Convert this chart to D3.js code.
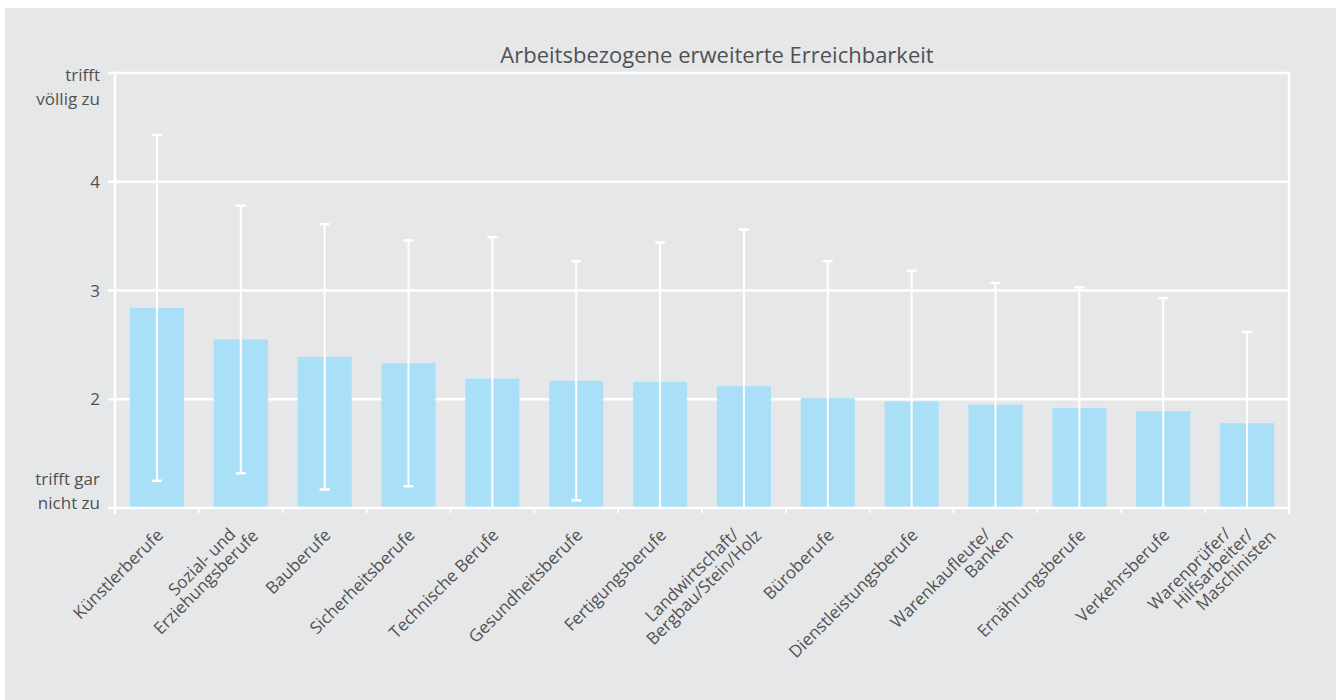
<!DOCTYPE html>
<html>
<head>
<meta charset="utf-8">
<script src="https://cdn.jsdelivr.net/npm/d3@7"></script>
<style>
  html, body { margin: 0; padding: 0; background: #ffffff; }
  svg { display: block; }
  text { font-family: "Open Sans", "DejaVu Sans", sans-serif; fill: #505153; }
</style>
</head>
<body>
<svg id="chart" width="1336" height="700"></svg>
<script>
// Occupational groups (line breaks marked with "\n")
const categories = [
  "Künstlerberufe",
  "Sozial- und\nErziehungsberufe",
  "Bauberufe",
  "Sicherheitsberufe",
  "Technische Berufe",
  "Gesundheitsberufe",
  "Fertigungsberufe",
  "Landwirtschaft/\nBergbau/Stein/Holz",
  "Büroberufe",
  "Dienstleistungsberufe",
  "Warenkaufleute/\nBanken",
  "Ernährungsberufe",
  "Verkehrsberufe",
  "Warenprüfer/\nHilfsarbeiter/\nMaschinisten"
];
// Mean agreement (scale 1–5)
const means = [2.84, 2.55, 2.39, 2.33, 2.19, 2.17, 2.16, 2.12, 2.01, 1.98, 1.95, 1.92, 1.89, 1.78];
// Standard deviations (error bars)
const sds = [1.59, 1.23, 1.22, 1.13, 1.30, 1.10, 1.28, 1.44, 1.26, 1.20, 1.12, 1.11, 1.04, 0.84];
// Y-axis ticks and labels
const yTicks = [1, 2, 3, 4, 5];
const yTickLabels = ["trifft gar\nnicht zu", "2", "3", "4", "trifft\nvöllig zu"];
const title = "Arbeitsbezogene erweiterte Erreichbarkeit";

const svg = d3.select("#chart");
const W = 1336, H = 700;
const mLeft = 115, mRight = 1289, mTop = 73, mBottom = 508;

// panel background
svg.append("rect").attr("x", 5).attr("y", 8).attr("width", W - 5).attr("height", H - 8).attr("fill", "#e6e7e9");

const x = d3.scaleBand().domain(categories).range([mLeft, mRight]).paddingInner(0.355).paddingOuter(0.1775);
const y = d3.scaleLinear().domain([1, 5]).range([mBottom, mTop]);

// horizontal grid lines (incl. top border) behind bars
svg.append("g").selectAll("line").data(yTicks.filter(t => t > 1)).join("line")
  .attr("x1", mLeft - 7).attr("x2", mRight).attr("y1", d => y(d)).attr("y2", d => y(d))
  .attr("stroke", "#ffffff").attr("stroke-width", 2.5);

// right border
svg.append("line").attr("x1", mRight).attr("x2", mRight).attr("y1", y(5) - 1.25).attr("y2", mBottom + 6)
  .attr("stroke", "#ffffff").attr("stroke-width", 2.5);

// bars
svg.append("g").selectAll("rect").data(categories).join("rect")
  .attr("x", d => x(d)).attr("width", x.bandwidth())
  .attr("y", (d, i) => y(means[i])).attr("height", (d, i) => y(1) - y(means[i]))
  .attr("fill", "#aadff8");

// left axis line
svg.append("line").attr("x1", mLeft).attr("x2", mLeft).attr("y1", mTop - 1.25).attr("y2", mBottom + 6)
  .attr("stroke", "#ffffff").attr("stroke-width", 2.5);

// bottom axis with ticks at band boundaries
svg.append("line").attr("x1", mLeft - 7).attr("x2", mRight + 1.25).attr("y1", mBottom).attr("y2", mBottom)
  .attr("stroke", "#ffffff").attr("stroke-width", 2.5);
const step = x.step();
const boundaries = d3.range(categories.length + 1).map(i => mLeft + i * step);
svg.append("g").selectAll("line").data(boundaries).join("line")
  .attr("x1", d => d).attr("x2", d => d).attr("y1", mBottom).attr("y2", mBottom + 5)
  .attr("stroke", "#ffffff").attr("stroke-width", 2);

// error bars (clipped to the scale range)
const eb = svg.append("g");
categories.forEach((c, i) => {
  const cx = x(c) + x.bandwidth() / 2;
  const hi = Math.min(5, means[i] + sds[i]);
  const lo = Math.max(1, means[i] - sds[i]);
  eb.append("line").attr("x1", cx).attr("x2", cx).attr("y1", y(hi)).attr("y2", y(lo))
    .attr("stroke", "#ffffff").attr("stroke-width", 2);
  eb.append("line").attr("x1", cx - 5).attr("x2", cx + 5).attr("y1", y(hi)).attr("y2", y(hi))
    .attr("stroke", "#ffffff").attr("stroke-width", 2.5);
  if (means[i] - sds[i] > 1) {
    eb.append("line").attr("x1", cx - 5).attr("x2", cx + 5).attr("y1", y(lo)).attr("y2", y(lo))
      .attr("stroke", "#ffffff").attr("stroke-width", 2.5);
  }
});

// y tick labels (multi-line labels as tspans in one text element)
const yl = svg.append("g").attr("font-size", 17).attr("text-anchor", "end");
const lineGap = 23.5;
yTicks.forEach((t, i) => {
  const lines = yTickLabels[i].split("\n");
  let base;
  if (t === 5) base = y(t) + 8;                                 // first line at the tick
  else if (t === 1) base = y(t) + 0.5 - (lines.length - 1) * lineGap; // last line at the tick
  else base = y(t) + 6;
  const txt = yl.append("text").attr("x", 100).attr("y", base);
  lines.forEach((ln, k) => {
    txt.append("tspan").attr("x", 100).attr("dy", k === 0 ? 0 : lineGap).text(ln);
  });
});

// x tick labels, rotated
const xl = svg.append("g").attr("font-size", 17).attr("text-anchor", "end");
categories.forEach((c, i) => {
  const cx = x(c) + x.bandwidth() / 2;
  const lines = c.split("\n");
  const txt = xl.append("text")
    .attr("transform", `translate(${cx + 3},${mBottom + 24}) rotate(-45)`);
  lines.forEach((ln, k) => {
    const kk = k - (lines.length - 1) / 2;
    txt.append("tspan").attr("x", kk * 15).attr("y", kk * 17).attr("dy", "0.35em").text(ln);
  });
});

// title
svg.append("text").attr("x", 717).attr("y", 63).attr("text-anchor", "middle")
  .attr("font-size", 22).text(title);
</script>
</body>
</html>
